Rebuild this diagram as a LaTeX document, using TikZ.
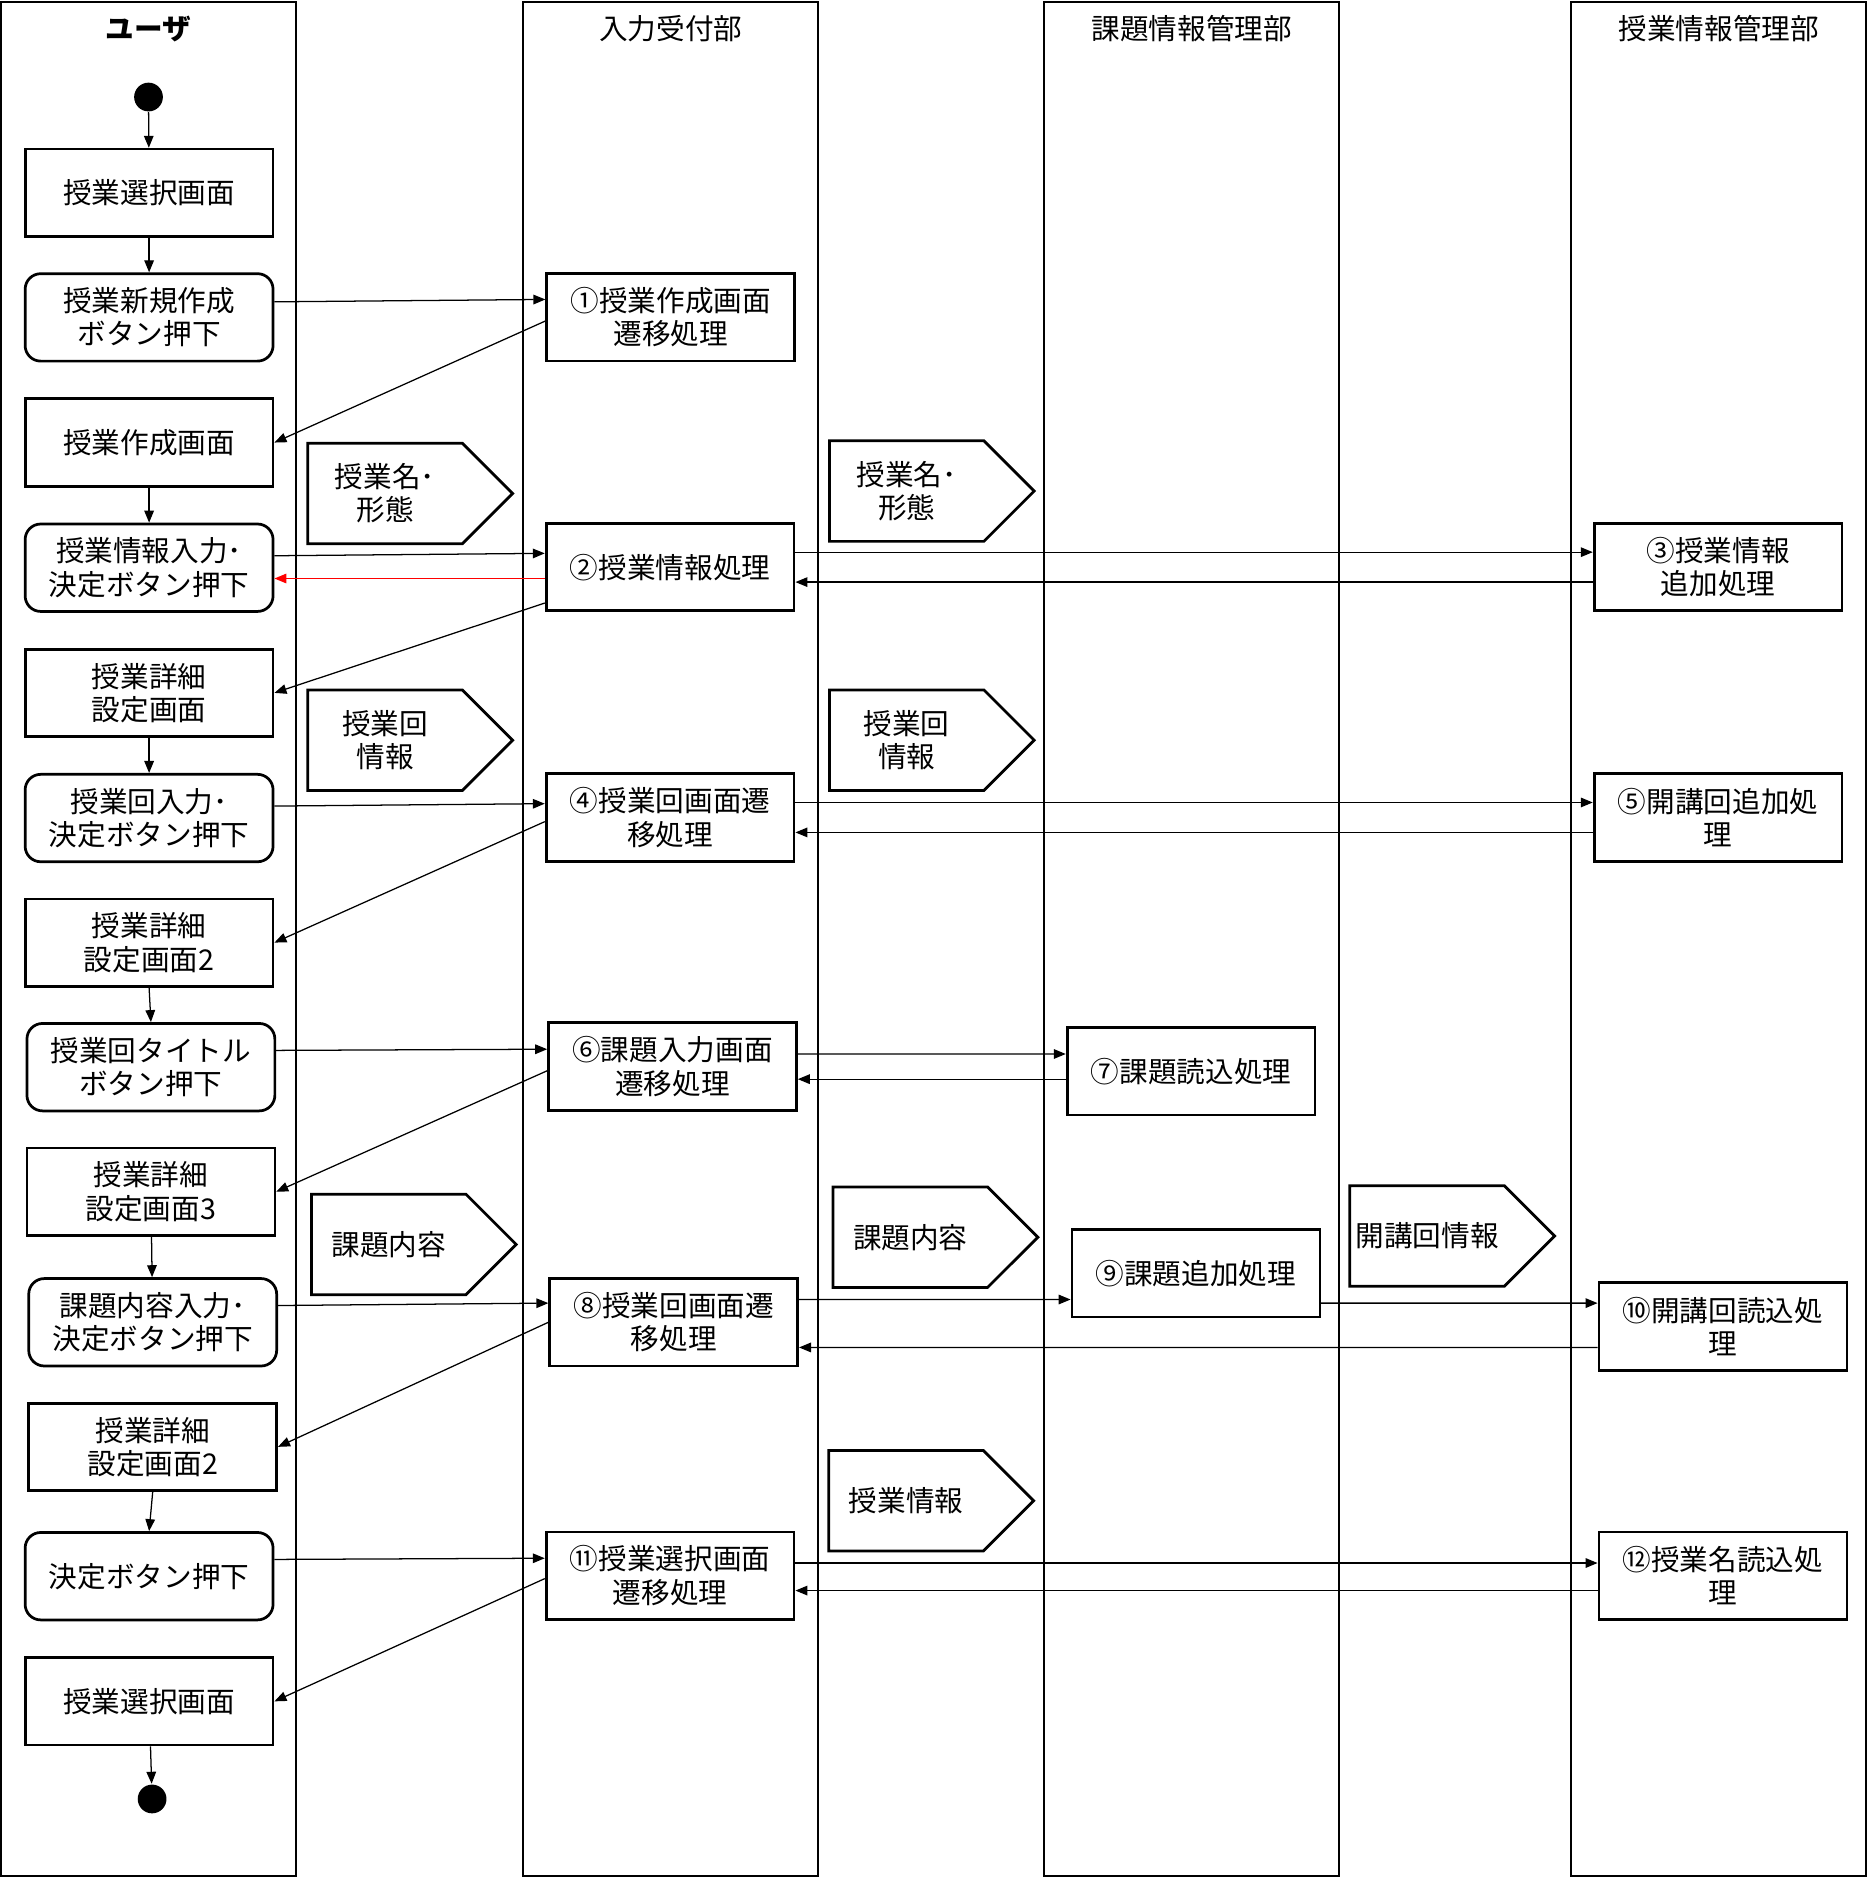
\documentclass[tikz,border=0pt]{standalone}
\usepackage{fontspec}
\setmainfont{Noto Sans CJK JP}
\usetikzlibrary{arrows.meta,shapes.symbols}

\tikzset{
  lane/.style={draw, line width=0.45pt},
  lanetitle/.style={font=\fontsize{6.8}{8}\selectfont},
  screen/.style={draw, line width=0.65pt, minimum width=20.7mm, minimum height=7.3mm,
    inner sep=0pt, align=center, font=\fontsize{6.8}{7.9}\selectfont},
  action/.style={screen, rounded corners=1.3mm},
  proc/.style={screen},
  dataflag/.style={draw, line width=0.65pt, signal, signal to=east, minimum width=17.1mm,
    minimum height=8.4mm, inner sep=0pt, align=center, font=\fontsize{6.8}{7.9}\selectfont},
  terminal/.style={circle, fill=black, minimum size=2.4mm, inner sep=0pt},
  flow/.style={-{Triangle[length=1mm,width=0.8mm]}, line width=0.3pt},
}

\begin{document}
\begin{tikzpicture}[x=0.1mm, y=-0.1mm]
    \useasboundingbox (0,0) rectangle (1560,1568);

    % --- Swimlanes ---
    \draw[lane] (1,2) rectangle (247,1566);
    \draw[lane] (437,2) rectangle (683,1566);
    \draw[lane] (872,2) rectangle (1118,1566);
    \draw[lane] (1312,2) rectangle (1558,1566);
    \node[lanetitle, font=\fontsize{6.8}{8}\selectfont\bfseries] (user) at (124,24) {ユーザ};
    \node[lanetitle] (input) at (560,24) {入力受付部};
    \node[lanetitle] (task) at (995,24) {課題情報管理部};
    \node[lanetitle] (lesson) at (1435,24) {授業情報管理部};

    % --- User lane ---
    \node[terminal] (start) at (124,81) {};
    \node[screen] (a1) at (124.5,161) {授業選択画面};
    \node[action] (a2) at (124.5,265) {授業新規作成\\ボタン押下};
    \node[screen] (a3) at (124.5,369.5) {授業作成画面};
    \node[action] (a4) at (124.5,474) {授業情報入力･\\決定ボタン押下};
    \node[screen] (a5) at (124.5,578.5) {授業詳細\\設定画面};
    \node[action] (a6) at (124.5,683) {授業回入力･\\決定ボタン押下};
    \node[screen] (a7) at (124.5,787) {授業詳細\\設定画面2};
    \node[action] (a8) at (126,891) {授業回タイトル\\ボタン押下};
    \node[screen] (a9) at (126,995) {授業詳細\\設定画面3};
    \node[action] (a10) at (127.5,1104) {課題内容入力･\\決定ボタン押下};
    \node[screen] (a11) at (127.5,1208) {授業詳細\\設定画面2};
    \node[action] (a12) at (124.5,1316) {決定ボタン押下};
    \node[screen] (a13) at (124.5,1420.5) {授業選択画面};
    \node[terminal] (stop) at (127,1502) {};

    % --- Processing nodes ---
    \node[proc] (p1) at (560,265) {①授業作成画面\\遷移処理};
    \node[proc] (p2) at (559.5,473.5) {②授業情報処理};
    \node[proc] (p3) at (1434.5,473.5) {③授業情報\\追加処理};
    \node[proc] (p4) at (559.5,682.5) {④授業回画面遷\\移処理};
    \node[proc] (p5) at (1434.5,682.5) {⑤開講回追加処\\理};
    \node[proc] (p6) at (561.5,890.5) {⑥課題入力画面\\遷移処理};
    \node[proc] (p7) at (994.5,894.5) {⑦課題読込処理};
    \node[proc] (p8) at (562.5,1104) {⑧授業回画面遷\\移処理};
    \node[proc] (p9) at (998.5,1063) {⑨課題追加処理};
    \node[proc] (p10) at (1438.5,1107.5) {⑩開講回読込処\\理};
    \node[proc] (p11) at (559.5,1315.5) {⑪授業選択画面\\遷移処理};
    \node[proc] (p12) at (1438.5,1315.5) {⑫授業名読込処\\理};

    % --- Data flags ---
    \node[dataflag] (f1) at (321.5,412) {授業名･\\形態};
    \node[dataflag] (f2) at (757,410) {授業名･\\形態};
    \node[dataflag] (f3) at (321.5,618) {授業回\\情報};
    \node[dataflag] (f4) at (757,618) {授業回\\情報};
    \node[dataflag] (f5) at (324.5,1039) {課題内容};
    \node[dataflag] (f6) at (760,1033) {課題内容};
    \node[dataflag] (f7) at (1191.5,1032) {開講回情報};
    \node[dataflag] (f8) at (756.5,1253) {授業情報};

    % --- User flow (vertical) ---
    \draw[flow] (start) -- (a1);
    \draw[flow] (a1) -- (a2);
    \draw[flow] (a3) -- (a4);
    \draw[flow] (a5) -- (a6);
    \draw[flow] (a7.south) -- (a8.north);
    \draw[flow] (a9) -- (a10);
    \draw[flow] (a11.south) -- (a12.north);
    \draw[flow] (a13) -- (stop);

    % --- Requests and replies ---
    \draw[flow] ([yshift=1.3mm]a2.east) -- ([yshift=1.5mm]p1.west);
    \draw[flow] ([yshift=-0.3mm]p1.west) -- (a3.east);

    \draw[flow] ([yshift=1mm]a4.east) -- ([yshift=1.15mm]p2.west);
    \draw[flow, red] ([yshift=-0.95mm]p2.west) -- ([yshift=-0.9mm]a4.east);
    \draw[flow] ([yshift=-3mm]p2.west) -- (a5.east);
    \draw[flow] ([yshift=1.25mm]p2.east) -- ([yshift=1.25mm]p3.west);
    \draw[flow] ([yshift=-1.25mm]p3.west) -- ([yshift=-1.25mm]p2.east);

    \draw[flow] ([yshift=1mm]a6.east) -- ([yshift=1.15mm]p4.west);
    \draw[flow] ([yshift=-0.35mm]p4.west) -- (a7.east);
    \draw[flow] ([yshift=1.25mm]p4.east) -- ([yshift=1.25mm]p5.west);
    \draw[flow] ([yshift=-1.25mm]p5.west) -- ([yshift=-1.25mm]p4.east);

    \draw[flow] ([yshift=1.4mm]a8.east) -- ([yshift=1.45mm]p6.west);
    \draw[flow] ([yshift=-0.35mm]p6.west) -- (a9.east);
    \draw[flow] ([yshift=1.05mm]p6.east) -- ([yshift=1.45mm]p7.west);
    \draw[flow] ([yshift=-0.65mm]p7.west) -- ([yshift=-1.05mm]p6.east);

    \draw[flow] ([yshift=1.4mm]a10.east) -- ([yshift=1.6mm]p8.west);
    \draw[flow] (p8.west) -- (a11.east);
    \draw[flow] ([yshift=1.9mm]p8.east) -- ([yshift=-2.2mm]p9.west);
    \draw[flow] ([yshift=-2.5mm]p9.east) -- ([yshift=1.95mm]p10.west);
    \draw[flow] ([yshift=-1.75mm]p10.west) -- ([yshift=-2.1mm]p8.east);

    \draw[flow] ([yshift=1.4mm]a12.east) -- ([yshift=1.45mm]p11.west);
    \draw[flow] ([yshift=-0.25mm]p11.west) -- (a13.east);
    \draw[flow] ([yshift=1.05mm]p11.east) -- ([yshift=1.05mm]p12.west);
    \draw[flow] ([yshift=-1.25mm]p12.west) -- ([yshift=-1.25mm]p11.east);
\end{tikzpicture}
\end{document}
